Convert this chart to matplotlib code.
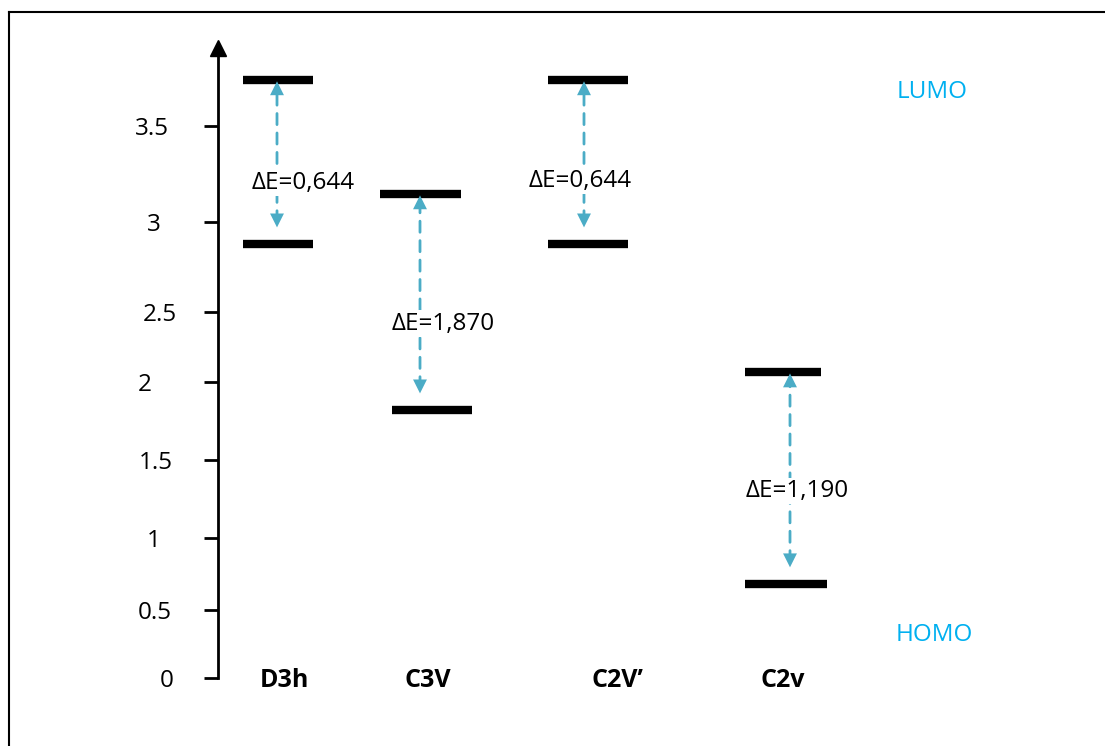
import numpy as np
import matplotlib
matplotlib.use("Agg")
import matplotlib.pyplot as plt
from matplotlib.lines import Line2D

plt.rcParams['font.family'] = ['Open Sans', 'DejaVu Sans']

# energy levels (in axis units)
groupes = ["D3h", "C3V", "C2V\u2019", "C2v"]
lumo = [3.74, 3.146, 3.74, 2.069]
homo = [2.877, 1.819, 2.877, 0.68]
gap_labels = ["\u0394E=0,644", "\u0394E=1,870", "\u0394E=0,644", "\u0394E=1,190"]
gap_label_y = [3.22, 2.434, 3.229, 1.32]
yticks = [0, 0.5, 1, 1.5, 2, 2.5, 3, 3.5]
ytick_labels = ['0', '0.5', '1', '1.5', '2', '2.5', '3', '3.5']

# the drawn axis is not evenly spaced, so map ticks to their heights (px from bottom)
tick_h = [68.3, 136, 208.3, 286, 364.3, 434.3, 524, 620]

def fwd(v):
    v = np.asarray(v, dtype=float)
    out = np.interp(v, yticks, tick_h)
    out = np.where(v > 3.5, 620 + (v - 3.5) * 192, out)
    out = np.where(v < 0, 68.3 + v * 135.4, out)
    return out

def inv(h):
    h = np.asarray(h, dtype=float)
    out = np.interp(h, tick_h, yticks)
    out = np.where(h > 620, 3.5 + (h - 620) / 192, out)
    out = np.where(h < 68.3, (h - 68.3) / 135.4, out)
    return out

fig = plt.figure(figsize=(11.05, 7.46), dpi=100)
ax = fig.add_axes([0, 0, 1, 1])
ax.set_yscale('function', functions=(fwd, inv))
ax.set_xlim(0, 1105)
ax.set_ylim(float(inv(0)), float(inv(746)))

# layout: x of each column (px), bar extents
lumo_x = [(243, 313), (380, 461), (548, 628), (745, 821)]
homo_x = [(243, 313), (392, 472), (548, 628), (745, 827)]
arrow_x = [277, 420, 584, 790]
label_x = [303, 443, 580, 797]
cat_x = [284, 428, 617, 783]
ticklab_x = [167, 155, 154, 156, 145, 159.5, 154, 152]

blue = '#4BACC6'
for i in range(len(groupes)):
    ax.hlines(lumo[i], *lumo_x[i], colors='black', lw=6, capstyle='butt')
    ax.hlines(homo[i], *homo_x[i], colors='black', lw=6, capstyle='butt')
    ax.annotate('', xy=(arrow_x[i], lumo[i]), xytext=(arrow_x[i], homo[i]),
                arrowprops=dict(arrowstyle='-', color=blue, lw=2, ls=(0, (4, 3)),
                                shrinkA=16, shrinkB=4))
    ax.annotate('', xy=(arrow_x[i], lumo[i]), xytext=(arrow_x[i], homo[i]),
                arrowprops=dict(arrowstyle='<|-|>,head_length=1.0,head_width=0.5',
                                color=blue, lw=0, shrinkA=12, shrinkB=1))
    ax.text(label_x[i], gap_label_y[i], gap_labels[i], ha='center', va='center_baseline',
            fontsize=17.5, color='black',
            bbox=dict(facecolor='white', edgecolor='none', pad=1))
    ax.text(cat_x[i], 0, groupes[i], ha='center', va='center_baseline',
            fontsize=18, fontweight='bold')

# y axis
for s in ['top', 'right', 'bottom']:
    ax.spines[s].set_visible(False)
ax.spines['left'].set_position(('data', 217.7))
ax.spines['left'].set_linewidth(2)
top_v = float(inv(746 - 48))
ax.spines['left'].set_bounds(0, top_v)
ax.plot([217.7], [top_v], marker='^', color='black', ms=11, clip_on=False)
ax.set_yticks(yticks)
ax.set_yticklabels([])
ax.tick_params(axis='y', direction='out', length=10, width=2)
ax.set_xticks([])
for v, t, x in zip(yticks, ytick_labels, ticklab_x):
    ax.text(x, v, t, ha='center', va='center_baseline', fontsize=17.5)

ax.text(932, inv(746 - 89), 'LUMO', color='#00B0F0', fontsize=17.5,
        ha='center', va='center_baseline')
ax.text(934, inv(746 - 632), 'HOMO', color='#00B0F0', fontsize=17.5,
        ha='center', va='center_baseline')

# frame of the picture (top and left only)
fig.add_artist(Line2D([8.5 / 1105, 1], [1 - 11.5 / 746] * 2, color='black', lw=1.5,
                      transform=fig.transFigure))
fig.add_artist(Line2D([8.5 / 1105] * 2, [0, 1 - 11.5 / 746], color='black', lw=1.5,
                      transform=fig.transFigure))

fig.savefig('out.png', dpi=100)
